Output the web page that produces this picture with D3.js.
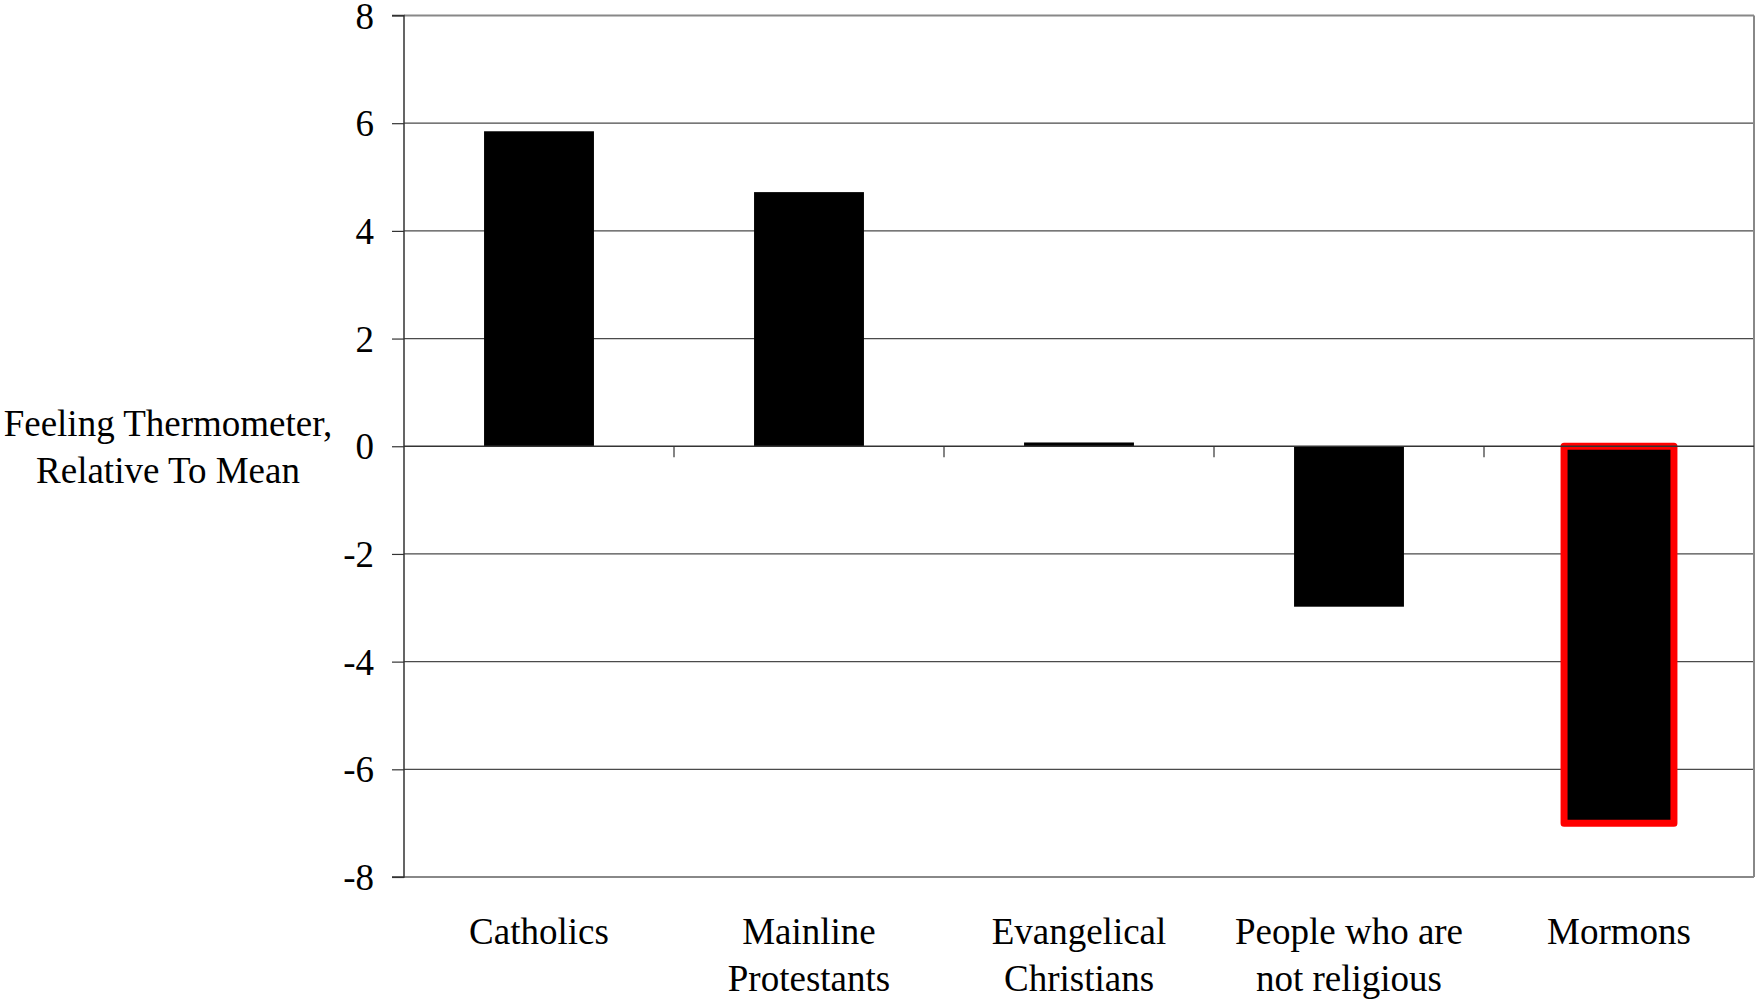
<!DOCTYPE html>
<html>
<head>
<meta charset="utf-8">
<script src="https://cdn.jsdelivr.net/npm/d3@7"></script>
<style>
  html, body { margin: 0; padding: 0; background: #fff; }
  svg { display: block; }
  text { font-family: "Liberation Serif", "Times New Roman", serif; fill: #000; }
</style>
</head>
<body>
<svg id="chart" width="1755" height="1003"></svg>
<script>
const categories = [
  ["Catholics"],
  ["Mainline", "Protestants"],
  ["Evangelical", "Christians"],
  ["People who are", "not religious"],
  ["Mormons"]
];
const values = [5.85, 4.72, 0.07, -2.98, -7.0];
const highlighted = [false, false, false, false, true];
const yTicks = [8, 6, 4, 2, 0, -2, -4, -6, -8];
const yTitle = ["Feeling Thermometer,", "Relative To Mean"];

(function () {
const plotLeft = 404, plotRight = 1754, plotTop = 15.5, plotBottom = 877;
const svg = d3.select("#chart");

const x = d3.scaleBand().domain(d3.range(categories.length)).range([plotLeft, plotRight]).padding(0);
const y = d3.scaleLinear().domain([-8, 8]).range([plotBottom, plotTop]);

const barW = x.bandwidth() * 0.407;

// gridlines
svg.append("g").selectAll("line").data(yTicks.filter(t => t !== 0 && t !== 8 && t !== -8))
  .join("line")
  .attr("x1", plotLeft).attr("x2", plotRight)
  .attr("y1", d => y(d)).attr("y2", d => y(d))
  .attr("stroke", "#4a4a4a").attr("stroke-width", 1.2);

// plot border top / right / bottom
svg.append("line").attr("x1", plotLeft).attr("x2", plotRight).attr("y1", y(8)).attr("y2", y(8))
  .attr("stroke", "#888").attr("stroke-width", 2);
svg.append("line").attr("x1", plotRight).attr("x2", plotRight).attr("y1", y(8)).attr("y2", y(-8))
  .attr("stroke", "#888").attr("stroke-width", 2);
svg.append("line").attr("x1", plotLeft).attr("x2", plotRight).attr("y1", y(-8)).attr("y2", y(-8))
  .attr("stroke", "#888").attr("stroke-width", 2);

// bars
svg.append("g").selectAll("rect").data(values)
  .join("rect")
  .attr("x", (d, i) => x(i) + (x.bandwidth() - barW) / 2)
  .attr("width", barW)
  .attr("y", d => y(Math.max(0, d)))
  .attr("height", d => Math.abs(y(d) - y(0)))
  .attr("fill", "#000")
  .attr("stroke", (d, i) => highlighted[i] ? "#ff0000" : "none")
  .attr("stroke-width", (d, i) => highlighted[i] ? 7 : 0)
  .attr("stroke-linejoin", "round");

// zero line (category axis) with ticks between categories
svg.append("line").attr("x1", plotLeft).attr("x2", plotRight).attr("y1", y(0)).attr("y2", y(0))
  .attr("stroke", "#333").attr("stroke-width", 1.5);
svg.append("g").selectAll("line").data(d3.range(1, categories.length))
  .join("line")
  .attr("x1", i => x(i)).attr("x2", i => x(i))
  .attr("y1", y(0)).attr("y2", y(0) + 11)
  .attr("stroke", "#333").attr("stroke-width", 1.2);

// y axis
const yAxis = d3.axisLeft(y).tickValues(yTicks).tickSize(12).tickPadding(18);
const gy = svg.append("g").attr("transform", `translate(${plotLeft},0)`).call(yAxis);
gy.select(".domain").attr("stroke", "#333").attr("stroke-width", 1.5).attr("d", `M-12,${y(8)}H0V${y(-8)}H-12`);
gy.selectAll(".tick line").attr("stroke", "#333").attr("stroke-width", 1.2);
gy.selectAll(".tick text")
  .style("font-family", '"Liberation Serif", "Times New Roman", serif')
  .style("font-size", "37px")
  .attr("fill", "#000")
  .attr("dy", "0.34em")
  .text(d => d < 0 ? "-" + Math.abs(d) : String(d));

// category labels
const lab = svg.append("g").selectAll("text").data(categories).join("text")
  .attr("text-anchor", "middle")
  .attr("x", (d, i) => x(i) + x.bandwidth() / 2)
  .attr("y", 944)
  .style("font-size", "37px");
lab.each(function (d, i) {
  const t = d3.select(this);
  const cx = x(i) + x.bandwidth() / 2;
  t.selectAll("tspan").data(d).join("tspan")
    .attr("x", cx)
    .attr("dy", (s, j) => j === 0 ? 0 : 47)
    .text(s => s);
});

// y title
const yt = svg.append("text").attr("text-anchor", "middle").attr("x", 168).attr("y", 436).style("font-size", "37px");
yt.selectAll("tspan").data(yTitle).join("tspan")
  .attr("x", 168).attr("dy", (d, j) => j === 0 ? 0 : 47).text(d => d);
})();
</script>
</body>
</html>
